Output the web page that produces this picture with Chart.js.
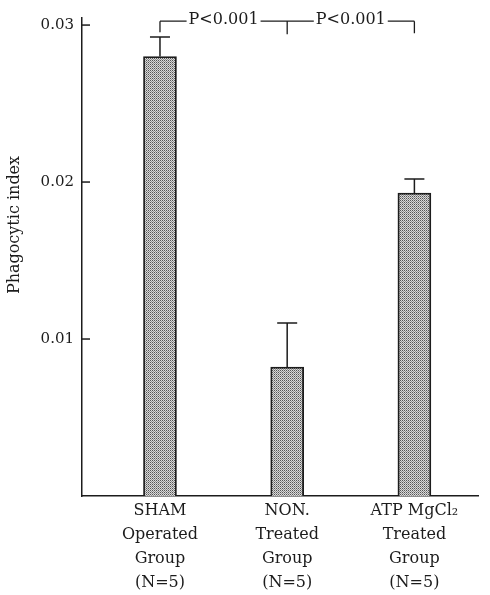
<!DOCTYPE html>
<html>
<head>
<meta charset="utf-8">
<script src="https://cdn.jsdelivr.net/npm/chart.js@4.4.0/dist/chart.umd.min.js"></script>
<style>
  html, body { margin: 0; padding: 0; background: #fff; }
  #wrap { width: 490px; height: 595px; position: relative; }
</style>
</head>
<body>
<div id="wrap"><canvas id="chart"></canvas></div>
<script>
// values
const groupLabels = [
    ['SHAM', 'Operated', 'Group', '(N=5)'],
    ['NON.', 'Treated', 'Group', '(N=5)'],
    ['ATP MgCl₂', 'Treated', 'Group', '(N=5)']
];
const phagocyticIndex = [0.0280, 0.00822, 0.0193];
const errorTop = [0.02924, 0.01102, 0.02019];
const yTicks = [0.01, 0.02, 0.03];
const pLabels = ['P<0.001', 'P<0.001'];
const bracketLevel = 0.03025;

const ink = '#1c1c1c';
const serif = 'DejaVu Serif';

// dotted grey fill like the print
function makeStipple() {
    const c = document.createElement('canvas');
    c.width = 2; c.height = 2;
    const g = c.getContext('2d');
    g.fillStyle = '#d8d8d8';
    g.fillRect(0, 0, 2, 2);
    g.fillStyle = '#555555';
    g.fillRect(0, 0, 1, 1);
    g.fillStyle = '#909090';
    g.fillRect(1, 1, 1, 1);
    return g.createPattern(c, 'repeat');
}

const errorBars = {
    id: 'errorBars',
    afterDatasetsDraw(chart) {
        const { ctx, scales: { x, y } } = chart;
        ctx.save();
        ctx.strokeStyle = ink;
        ctx.lineWidth = 1.5;
        phagocyticIndex.forEach((v, i) => {
            const px = x.getPixelForValue(i);
            const y0 = y.getPixelForValue(v);
            const y1 = y.getPixelForValue(errorTop[i]);
            ctx.beginPath();
            ctx.moveTo(px, y0);
            ctx.lineTo(px, y1);
            ctx.moveTo(px - 10, y1);
            ctx.lineTo(px + 10, y1);
            ctx.stroke();
        });
        ctx.restore();
    }
};

const innerTicks = {
    id: 'innerTicks',
    afterDraw(chart) {
        const { ctx, scales: { y }, chartArea } = chart;
        ctx.save();
        ctx.strokeStyle = ink;
        ctx.lineWidth = 1.5;
        yTicks.forEach(v => {
            const py = y.getPixelForValue(v);
            ctx.beginPath();
            ctx.moveTo(chartArea.left, py);
            ctx.lineTo(chartArea.left + 8, py);
            ctx.stroke();
        });
        // y axis title
        ctx.fillStyle = ink;
        ctx.font = '16px "' + serif + '"';
        ctx.textAlign = 'center';
        ctx.textBaseline = 'middle';
        ctx.translate(15, 225);
        ctx.rotate(-Math.PI / 2);
        ctx.fillText('Phagocytic index', 0, 0);
        ctx.restore();
    }
};

const bracket = {
    id: 'bracket',
    afterDraw(chart) {
        const { ctx, scales: { x, y } } = chart;
        const yb = y.getPixelForValue(bracketLevel);
        const xs = [0, 1, 2].map(i => x.getPixelForValue(i));
        const legs = [11, 13, 12];
        ctx.save();
        ctx.strokeStyle = ink;
        ctx.fillStyle = ink;
        ctx.lineWidth = 1.3;
        ctx.font = '16px "' + serif + '"';
        ctx.textAlign = 'center';
        ctx.textBaseline = 'middle';
        ctx.beginPath();
        xs.forEach((px, i) => {
            ctx.moveTo(px, yb);
            ctx.lineTo(px, yb + legs[i]);
        });
        pLabels.forEach((t, i) => {
            const mid = (xs[i] + xs[i + 1]) / 2;
            const w = ctx.measureText(t).width;
            ctx.moveTo(xs[i], yb);
            ctx.lineTo(mid - w / 2 - 2, yb);
            ctx.moveTo(mid + w / 2 + 2, yb);
            ctx.lineTo(xs[i + 1], yb);
        });
        ctx.stroke();
        pLabels.forEach((t, i) => {
            const mid = (xs[i] + xs[i + 1]) / 2;
            ctx.fillText(t, mid, yb - 1);
        });
        ctx.restore();
    }
};

new Chart(document.getElementById('chart'), {
    type: 'bar',
    data: {
        datasets: [{
            data: phagocyticIndex.map((v, i) => ({ x: i, y: v })),
            backgroundColor: makeStipple(),
            borderColor: ink,
            borderWidth: 1.8,
            barThickness: 33
        }]
    },
    options: {
        responsive: true,
        maintainAspectRatio: false,
        animation: false,
        layout: { padding: { top: 18, right: 12, left: 0, bottom: 0 } },
        plugins: {
            legend: { display: false },
            title: { display: false },
            tooltip: { enabled: false }
        },
        scales: {
            x: {
                type: 'linear',
                offset: false,
                min: -0.613,
                max: 2.5,
                afterBuildTicks: s => { s.ticks = groupLabels.map((l, i) => ({ value: i })); },
                afterFit: s => { s.height = 99; },
                grid: { display: false, drawTicks: false, offset: false },
                border: { display: true, color: ink, width: 1.5 },
                ticks: {
                    padding: 3,
                    color: ink,
                    maxRotation: 0,
                    autoSkip: false,
                    font: { family: serif, size: 16, lineHeight: 1.5 },
                    callback: v => groupLabels[v]
                }
            },
            y: {
                min: 0,
                max: 0.03045,
                afterBuildTicks: s => { s.ticks = yTicks.map(v => ({ value: v })); },
                afterFit: s => { s.width = 82; },
                grid: { display: false, drawTicks: false },
                border: { display: true, color: ink, width: 1.5 },
                ticks: {
                    padding: 8,
                    color: ink,
                    font: { family: serif, size: 15 },
                    callback: v => v.toFixed(2)
                }
            }
        }
    },
    plugins: [errorBars, innerTicks, bracket]
});
</script>
</body>
</html>
